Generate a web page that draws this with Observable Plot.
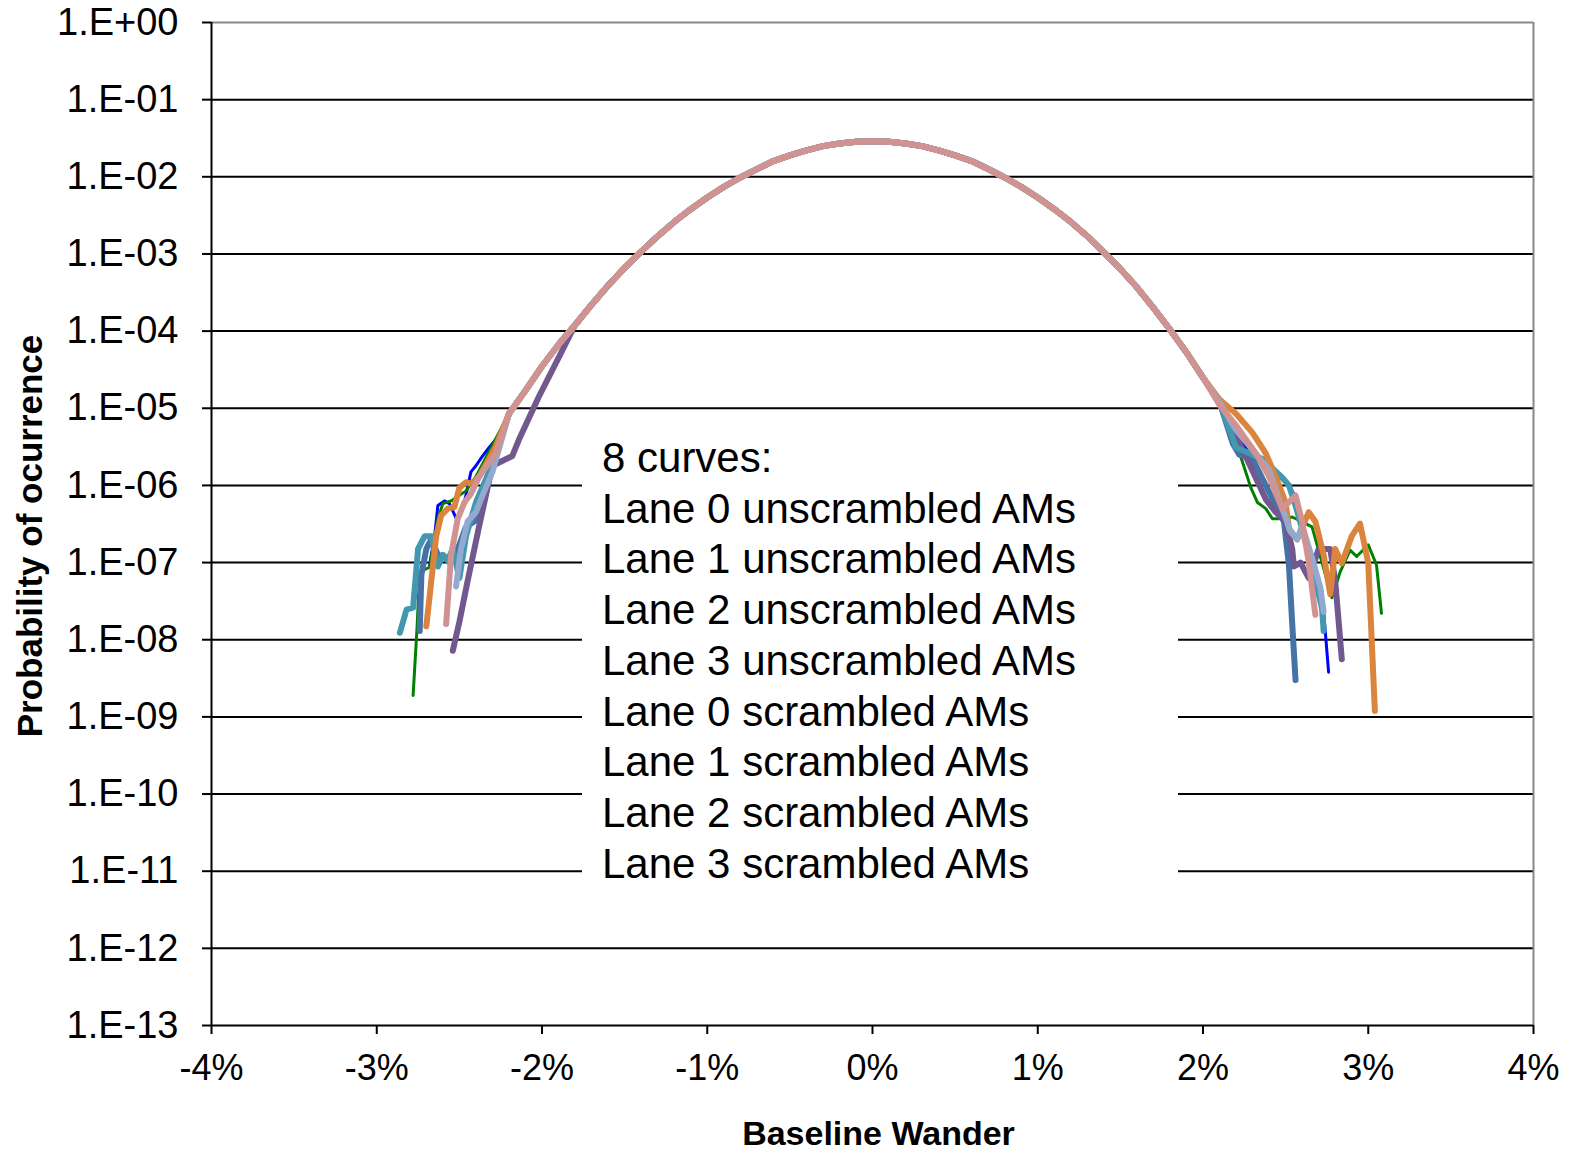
<!DOCTYPE html>
<html>
<head>
<meta charset="utf-8">
<script src="https://cdn.jsdelivr.net/npm/d3@7"></script>
<script src="https://cdn.jsdelivr.net/npm/@observablehq/plot@0.6"></script>
<style>
  html, body { margin: 0; background: white; overflow: hidden; }
  #wrap { position: relative; width: 1581px; height: 1160px; }
  #chart svg { max-width: none !important; width: 1581px !important; height: 1160px !important; }
  #legend {
    position: absolute; left: 582px; top: 433px; width: 576px; height: 462px;
    background: white; padding-left: 20px;
    font-family: "Liberation Sans", Arial, sans-serif; font-size: 42px; line-height: 50.7px; color: black;
  }
</style>
</head>
<body>
<div id="wrap">
  <div id="chart"></div>
  <div id="legend"></div>
</div>
<script>
// series names and colours
const seriesNames = [
  'Lane 0 unscrambled AMs', 'Lane 1 unscrambled AMs', 'Lane 2 unscrambled AMs', 'Lane 3 unscrambled AMs',
  'Lane 0 scrambled AMs', 'Lane 1 scrambled AMs', 'Lane 2 scrambled AMs', 'Lane 3 scrambled AMs'
]
const seriesColors = ['#0000ff', '#008000', '#4572a7', '#71588f', '#4198af', '#db843d', '#93a9cf', '#d19392']
const seriesWidths = [3, 3, 6, 6, 6, 6, 6, 6]

// shared centre of the curves (x in %, probability)
const coreX = [-2.2, -2.1, -2.0, -1.9, -1.8, -1.7, -1.6, -1.5, -1.4, -1.3, -1.2, -1.1, -1.0, -0.9, -0.8, -0.7, -0.6, -0.5, -0.4, -0.3, -0.2, -0.1,
  0, 0.1, 0.2, 0.3, 0.4, 0.5, 0.6, 0.7, 0.8, 0.9, 1.0, 1.1, 1.2, 1.3, 1.4, 1.5, 1.6, 1.7, 1.8, 1.9, 2.0, 2.1]
const coreP = [8.5e-6, 1.7e-5, 3.5e-5, 6.7e-5, 1.2e-4, 2.2e-4, 3.9e-4, 6.6e-4, 1.07e-3, 1.7e-3, 2.6e-3, 3.8e-3, 5.4e-3, 7.4e-3, 9.8e-3, 1.26e-2, 1.6e-2, 1.9e-2, 2.2e-2, 2.5e-2, 2.7e-2, 2.85e-2,
  2.9e-2, 2.85e-2, 2.7e-2, 2.5e-2, 2.2e-2, 1.9e-2, 1.6e-2, 1.26e-2, 9.8e-3, 7.4e-3, 5.4e-3, 3.8e-3, 2.6e-3, 1.7e-3, 1.05e-3, 6.4e-4, 3.7e-4, 2.0e-4, 1.05e-4, 5.3e-5, 2.5e-5, 1.2e-5]

// tails, [x %, probability]
const lane0uLeft = [[-2.68, 9.3e-8], [-2.65, 2.2e-7], [-2.63, 5.5e-7], [-2.59, 6.3e-7], [-2.56, 5.8e-7], [-2.51, 3.4e-7], [-2.47, 6.0e-7], [-2.43, 1.5e-6], [-2.40, 1.8e-6], [-2.36, 2.4e-6], [-2.32, 3.1e-6], [-2.26, 4.4e-6]]
const lane0uRight = [[2.16, 7.1e-6], [2.26, 3.0e-6], [2.40, 1.5e-6], [2.50, 1.15e-6], [2.55, 7.8e-7], [2.60, 3.0e-7], [2.68, 6.9e-8], [2.72, 4.3e-8], [2.76, 3.8e-9]]
const lane1uLeft = [[-2.78, 1.9e-9], [-2.756, 1.45e-8], [-2.74, 7.6e-8], [-2.68, 8.7e-8], [-2.63, 3.7e-7], [-2.60, 5.8e-7], [-2.55, 6.3e-7], [-2.46, 8.5e-7], [-2.40, 1.3e-6]]
const lane1uRight = [[2.23, 2.3e-6], [2.29, 9.3e-7], [2.33, 6.0e-7], [2.38, 5.0e-7], [2.42, 3.7e-7], [2.47, 3.7e-7], [2.54, 3.9e-7], [2.66, 2.9e-7], [2.78, 3.5e-8], [2.83, 7.6e-8], [2.89, 1.45e-7], [2.93, 1.2e-7], [3.00, 1.7e-7], [3.05, 9.3e-8], [3.08, 2.2e-8]]
const lane2uLeft = [[-2.74, 1.3e-8], [-2.73, 6.9e-8], [-2.70, 1.5e-7], [-2.67, 2.0e-7], [-2.63, 1.26e-7], [-2.59, 1.2e-7], [-2.56, 1.0e-7], [-2.51, 1.5e-7], [-2.46, 2.9e-7], [-2.41, 3.4e-7], [-2.38, 4.5e-7], [-2.32, 1.3e-6]]
const lane2uRight = [[2.18, 3.5e-6], [2.22, 2.5e-6], [2.30, 2.2e-6], [2.38, 1.0e-6], [2.46, 4.5e-7], [2.49, 3.4e-7], [2.52, 9.3e-8], [2.54, 1.6e-8], [2.56, 3.0e-9]]
const lane3uLeft = [[-2.54, 7.2e-9], [-2.50, 1.7e-8], [-2.45, 5.8e-8], [-2.38, 3.0e-7], [-2.30, 1.8e-6], [-2.18, 2.4e-6], [-2.14, 3.9e-6], [-2.02, 1.4e-5], [-1.90, 4.5e-5]]
const lane3uRight = [[2.20, 4.4e-6], [2.38, 6.6e-7], [2.44, 4.5e-7], [2.50, 3.4e-7], [2.54, 1.5e-7], [2.55, 8.9e-8], [2.59, 1.0e-7], [2.64, 6.3e-8], [2.70, 1.5e-7], [2.77, 1.5e-7], [2.80, 5.8e-8], [2.84, 5.6e-9]]
const lane0sLeft = [[-2.86, 1.23e-8], [-2.82, 2.45e-8], [-2.78, 2.6e-8], [-2.75, 1.5e-7], [-2.71, 2.2e-7], [-2.67, 2.2e-7], [-2.63, 8.9e-8], [-2.60, 1.26e-7], [-2.57, 1.07e-7], [-2.54, 1.5e-7], [-2.50, 6.3e-8], [-2.46, 2.2e-7], [-2.40, 6.0e-7], [-2.32, 1.5e-6]]
const lane0sRight = [[2.20, 3.1e-6], [2.36, 2.2e-6], [2.48, 1.26e-6], [2.52, 1.0e-6], [2.56, 5.5e-7], [2.60, 2.75e-7], [2.64, 1.26e-7], [2.68, 5.8e-8], [2.72, 2.6e-8], [2.73, 1.3e-8]]
const lane1sLeft = [[-2.70, 1.5e-8], [-2.64, 2.2e-7], [-2.61, 4.1e-7], [-2.57, 5.0e-7], [-2.53, 5.25e-7], [-2.50, 9.3e-7], [-2.46, 1.1e-6], [-2.43, 1.05e-6], [-2.38, 1.3e-6], [-2.28, 3.2e-6]]
const lane1sRight = [[2.10, 1.3e-5], [2.20, 8.5e-6], [2.30, 4.8e-6], [2.38, 2.6e-6], [2.44, 1.3e-6], [2.50, 6.0e-7], [2.52, 2.75e-7], [2.57, 2.0e-7], [2.64, 4.5e-7], [2.68, 3.4e-7], [2.73, 1.26e-7], [2.77, 3.9e-8], [2.80, 1.5e-7], [2.84, 9.8e-8], [2.90, 2.2e-7], [2.95, 3.2e-7], [3.00, 1.0e-7], [3.04, 1.2e-9]]
const lane2sLeft = [[-2.52, 4.9e-8], [-2.49, 1.5e-7], [-2.45, 3.4e-7], [-2.40, 4.5e-7], [-2.36, 7.4e-7], [-2.30, 1.5e-6]]
const lane2sRight = [[2.20, 5.25e-6], [2.40, 1.6e-6], [2.48, 5.0e-7], [2.53, 2.5e-7], [2.57, 2.0e-7], [2.60, 3.0e-7], [2.66, 1.15e-7], [2.71, 4.7e-8], [2.73, 2.3e-8]]
const lane3sLeft = [[-2.58, 1.6e-8], [-2.55, 1.26e-7], [-2.51, 3.7e-7], [-2.47, 6.0e-7], [-2.43, 7.8e-7], [-2.38, 1.3e-6], [-2.28, 2.6e-6]]
const lane3sRight = [[2.10, 1.1e-5], [2.20, 6.0e-6], [2.32, 2.6e-6], [2.40, 1.3e-6], [2.48, 5.0e-7], [2.56, 7.4e-7], [2.60, 3.4e-7], [2.64, 1.0e-7], [2.68, 2.1e-8]]

const leftTails = [lane0uLeft, lane1uLeft, lane2uLeft, lane3uLeft, lane0sLeft, lane1sLeft, lane2sLeft, lane3sLeft]
const rightTails = [lane0uRight, lane1uRight, lane2uRight, lane3uRight, lane0sRight, lane1sRight, lane2sRight, lane3sRight]

const yTicks = d3.range(0, -14, -1).map(e => Math.pow(10, e))
const xTicks = [-4, -3, -2, -1, 0, 1, 2, 3, 4]

// build each curve: its left tail, the shared centre, its right tail
const curves = seriesNames.map((name, i) => {
  const left = leftTails[i], right = rightTails[i]
  const lo = left[left.length - 1][0], hi = right[0][0]
  const mid = coreX.map((x, j) => [x, coreP[j]]).filter(d => d[0] > lo + 0.02 && d[0] < hi - 0.02)
  return left.concat(mid, right).map(d => ({series: name, x: d[0], p: d[1]}))
})

const fmtY = d => {
  const e = Math.round(Math.log10(d))
  return '1.E' + (e >= 0 ? '+' : '-') + String(Math.abs(e)).padStart(2, '0')
}

const font = '"Liberation Sans", Arial, sans-serif'

let chart = Plot.plot({
  width: 1581,
  height: 1160,
  marginLeft: 211,
  marginRight: 48,
  marginTop: 22,
  marginBottom: 135,
  style: {fontFamily: font, color: 'black', background: 'white'},
  x: {domain: [-4, 4]},
  y: {type: 'log', domain: [1e-13, 1]},
  marks: [
    // grid
    Plot.ruleY(yTicks.slice(1, -1), {stroke: 'black', strokeWidth: 2}),
    // frame: gray top and right, black axes
    Plot.ruleY([1], {stroke: '#888', strokeWidth: 2}),
    Plot.ruleX([4], {stroke: '#888', strokeWidth: 2}),
    Plot.ruleX([-4], {stroke: 'black', strokeWidth: 2}),
    Plot.ruleY([1e-13], {stroke: 'black', strokeWidth: 2}),
    Plot.axisY({ticks: yTicks, tickFormat: fmtY, tickSize: 9, tickPadding: 24, fontSize: 38, strokeWidth: 2, label: null}),
    Plot.axisX({ticks: xTicks, tickFormat: d => d + '%', tickSize: 9, tickPadding: 20, fontSize: 36, strokeWidth: 2, label: null}),
    ...curves.map((c, i) => Plot.line(c, {
      x: 'x', y: 'p', stroke: seriesColors[i], strokeWidth: seriesWidths[i], strokeLinejoin: 'round'
    })),
    Plot.text(['Baseline Wander'], {frameAnchor: 'bottom', dx: 6, dy: 119, fontSize: 34, fontWeight: 'bold', fill: 'black'}),
    Plot.text(['Probability of ocurrence'], {frameAnchor: 'left', textAnchor: 'middle', rotate: -90, dx: -181, dy: 12, fontSize: 35, fontWeight: 'bold', fill: 'black'})
  ]
})

d3.select('#chart').append(() => chart)

d3.select('#legend').selectAll('div')
  .data(['8 curves:', ...seriesNames])
  .join('div')
  .text(d => d)
</script>
</body>
</html>
